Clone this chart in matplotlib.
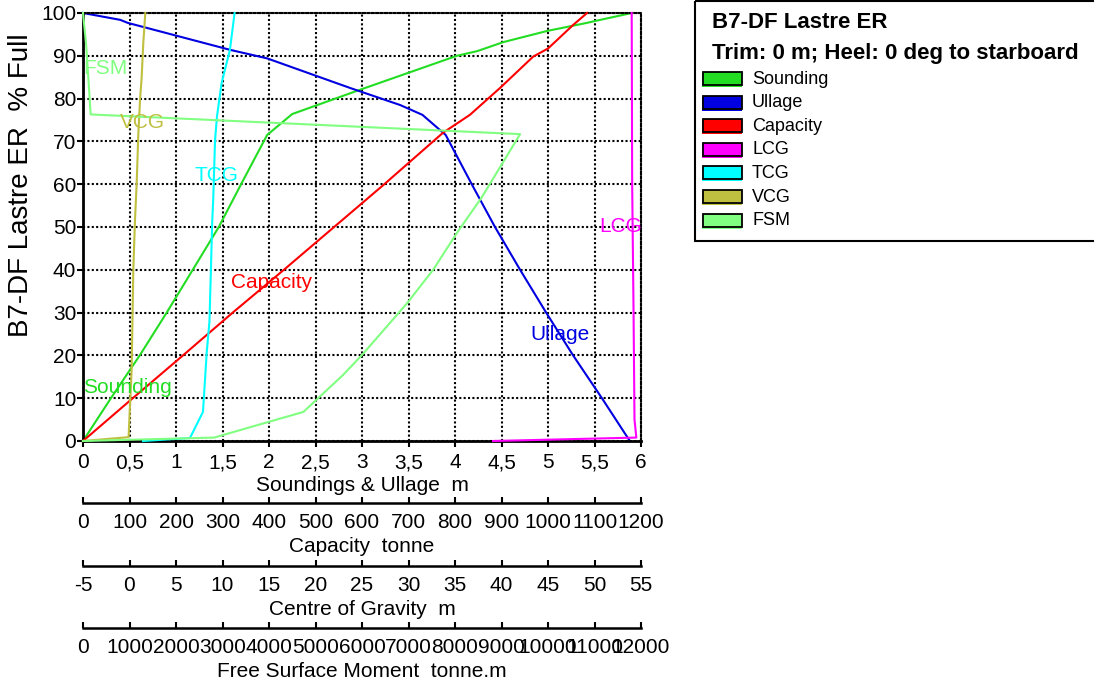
import matplotlib
matplotlib.use("Agg")
import matplotlib.pyplot as plt
from matplotlib.patches import Rectangle

plt.rcParams['font.family'] = ['Liberation Sans', 'DejaVu Sans']

# ── Data (percent full vs. value) ─────────────────────────────────────────────
SOUND_PCT = [0, 10, 20, 30, 40, 50, 60, 71.5, 76.4, 82.0, 90.0, 91.1, 93.2, 95.8, 97.7, 98.1, 100]
SOUND_M = [0, 0.30, 0.61, 0.90, 1.18, 1.46, 1.70, 1.98, 2.25, 2.97, 4.02, 4.24, 4.52, 4.99, 5.42, 5.50, 5.90]

ULL_PCT = [0, 10, 20, 30, 40, 50, 60, 71.5, 76.2, 78.5, 82.5, 89.4, 91.4, 97.7, 98.4, 100]
ULL_M = [5.88, 5.58, 5.27, 4.98, 4.70, 4.43, 4.18, 3.90, 3.65, 3.41, 2.87, 1.98, 1.58, 0.48, 0.40, 0]

CAP_PCT = [0, 10, 20, 30, 40, 50, 60, 72, 76.2, 82.5, 89.8, 91.7, 97.2, 100]
CAP_T = [0, 107, 215, 322, 432, 540, 648, 774, 832, 897, 968, 1000, 1054, 1084]

LCG_PCT = [0, 0.8, 5, 30, 60, 100]
LCG_M = [39.1, 54.5, 54.3, 54.2, 54.05, 54.0]

TCG_PCT = [0, 0.7, 6.8, 20.6, 28, 51.6, 56.3, 70.3, 75.7, 83.6, 91.4, 100]
TCG_M = [1.45, 6.5, 7.9, 8.3, 8.6, 8.9, 9.0, 9.2, 9.4, 9.9, 10.8, 11.3]

VCG_PCT = [0, 0.9, 16.7, 40, 51.6, 60.1, 71.8, 79.6, 85.1, 92.9, 100]
VCG_M = [-5.0, -0.1, 0.23, 0.41, 0.59, 0.77, 0.95, 1.13, 1.31, 1.48, 1.70]

FSM_PCT = [0, 0.8, 6.8, 15.4, 20.1, 32.2, 40, 48.6, 57, 64, 71.7, 76.3, 85.9, 93, 100]
FSM_TM = [0, 2820, 4740, 5590, 6000, 6970, 7530, 8040, 8580, 8970, 9400, 165, 108, 65, 0]

X_TICKS = [0, 0.5, 1, 1.5, 2, 2.5, 3, 3.5, 4, 4.5, 5, 5.5, 6]
X_LABELS = ['0', '0,5', '1', '1,5', '2', '2,5', '3', '3,5', '4', '4,5', '5', '5,5', '6']
CAP_TICKS = list(range(0, 1201, 100))
COG_TICKS = list(range(-5, 56, 5))
FSM_TICKS = list(range(0, 12001, 1000))

LEGEND_NAMES = ['Sounding', 'Ullage', 'Capacity', 'LCG', 'TCG', 'VCG', 'FSM']

C_SOUND = '#22DD22'
C_ULL = '#0000E0'
C_CAP = '#FF0000'
C_LCG = '#FF00FF'
C_TCG = '#00FFFF'
C_VCG = '#BFBF40'
C_FSM = '#80FF80'
COLORS = [C_SOUND, C_ULL, C_CAP, C_LCG, C_TCG, C_VCG, C_FSM]

W, H = 1094, 684
AX_L, AX_R, AX_T, AX_B = 83, 641, 13, 441
AX_H = AX_B - AX_T
FS = 15
LW = 1.5


def add_scale(ax, offset_px, lim, ticks, title):
    tw = ax.twiny()
    tw.set_xlim(*lim)
    for side in ('top', 'left', 'right'):
        tw.spines[side].set_visible(False)
    tw.spines['bottom'].set_position(('axes', -offset_px / AX_H))
    tw.spines['bottom'].set_linewidth(1.8)
    tw.xaxis.set_ticks_position('bottom')
    tw.xaxis.set_label_position('bottom')
    tw.set_xticks(ticks, [str(t) for t in ticks])
    tw.tick_params(axis='x', direction='in', length=4.5, width=1.5,
                   labelsize=FS, pad=7.5)
    tw.set_xlabel(title, fontsize=FS, labelpad=3)
    return tw


fig = plt.figure(figsize=(W / 100, H / 100), dpi=100)
ax = fig.add_axes([AX_L / W, 1 - AX_B / H, (AX_R - AX_L) / W, AX_H / H])

ax.set_xlim(0, 6)
ax.set_xticks(X_TICKS, X_LABELS)
ax.set_yticks(range(0, 101, 10))
ax.grid(True, color='black', linestyle=(0, (1, 1.1)), linewidth=1.5)
ax.set_axisbelow(True)
ax.tick_params(direction='out', length=4.3, width=1.5, labelsize=FS)
ax.tick_params(axis='x', pad=4.5)
ax.tick_params(axis='y', pad=0.5)
for side in ('left', 'bottom'):
    ax.spines[side].set_linewidth(2)
for side in ('top', 'right'):
    ax.spines[side].set_linestyle((0, (1, 1.1)))
    ax.spines[side].set_linewidth(1.5)
ax.set_xlabel('Soundings & Ullage  m', fontsize=FS, labelpad=3)
ax.set_ylabel('B7-DF Lastre ER  % Full', fontsize=20)
ax.yaxis.set_label_coords(-0.088, 0.598)

ax_cap = add_scale(ax, 62, (0, 1200), CAP_TICKS, 'Capacity  tonne')
ax_cog = add_scale(ax, 125, (-5, 55), COG_TICKS, 'Centre of Gravity  m')
ax_fsm = add_scale(ax, 187, (0, 12000), FSM_TICKS, 'Free Surface Moment  tonne.m')

ax.plot(SOUND_M, SOUND_PCT, color=C_SOUND, lw=LW, clip_on=False)
ax.plot(ULL_M, ULL_PCT, color=C_ULL, lw=LW, clip_on=False)
ax_cap.plot(CAP_T, CAP_PCT, color=C_CAP, lw=LW, clip_on=False)
ax_cog.plot(LCG_M, LCG_PCT, color=C_LCG, lw=LW, clip_on=False)
ax_cog.plot(TCG_M, TCG_PCT, color=C_TCG, lw=LW, clip_on=False)
ax_cog.plot(VCG_M, VCG_PCT, color=C_VCG, lw=LW, clip_on=False)
ax_fsm.plot(FSM_TM, FSM_PCT, color=C_FSM, lw=LW, clip_on=False)
ax.set_ylim(0, 100)

# curve labels
for txt, x, y, c in [('FSM', 0.237, 87.1, C_FSM), ('VCG', 0.634, 74.3, C_VCG),
                     ('TCG', 1.43, 62.1, C_TCG), ('Capacity', 2.03, 37.1, C_CAP),
                     ('Sounding', 0.473, 12.4, C_SOUND), ('Ullage', 5.13, 24.8, C_ULL),
                     ('LCG', 5.785, 50.0, C_LCG)]:
    ax_fsm.text(x * 2000, y, txt, color=c, fontsize=FS, ha='center', va='center', zorder=5)

# legend panel in pixel coordinates
lax = fig.add_axes([0, 0, 1, 1], zorder=-1)
lax.set_xlim(0, W)
lax.set_ylim(H, 0)
lax.axis('off')
lax.add_patch(Rectangle((695, 1), 420, 240, fill=False, ec='black', lw=1.5))
lax.text(712, 23, 'B7-DF Lastre ER', fontsize=16, fontweight='bold', va='center')
lax.text(712, 54, 'Trim: 0 m; Heel: 0 deg to starboard', fontsize=16,
         fontweight='bold', va='center')
for i, (name, c) in enumerate(zip(LEGEND_NAMES, COLORS)):
    yc = 79 + i * 23.6
    lax.add_patch(Rectangle((702, yc - 6), 40, 14, fc=c, ec='none'))
    lax.add_patch(Rectangle((703, yc - 7), 39, 13, fc=c, ec='black', lw=1.3))
    lax.text(752, yc, name, fontsize=13, va='center')

fig.savefig('out.png', dpi=100)
